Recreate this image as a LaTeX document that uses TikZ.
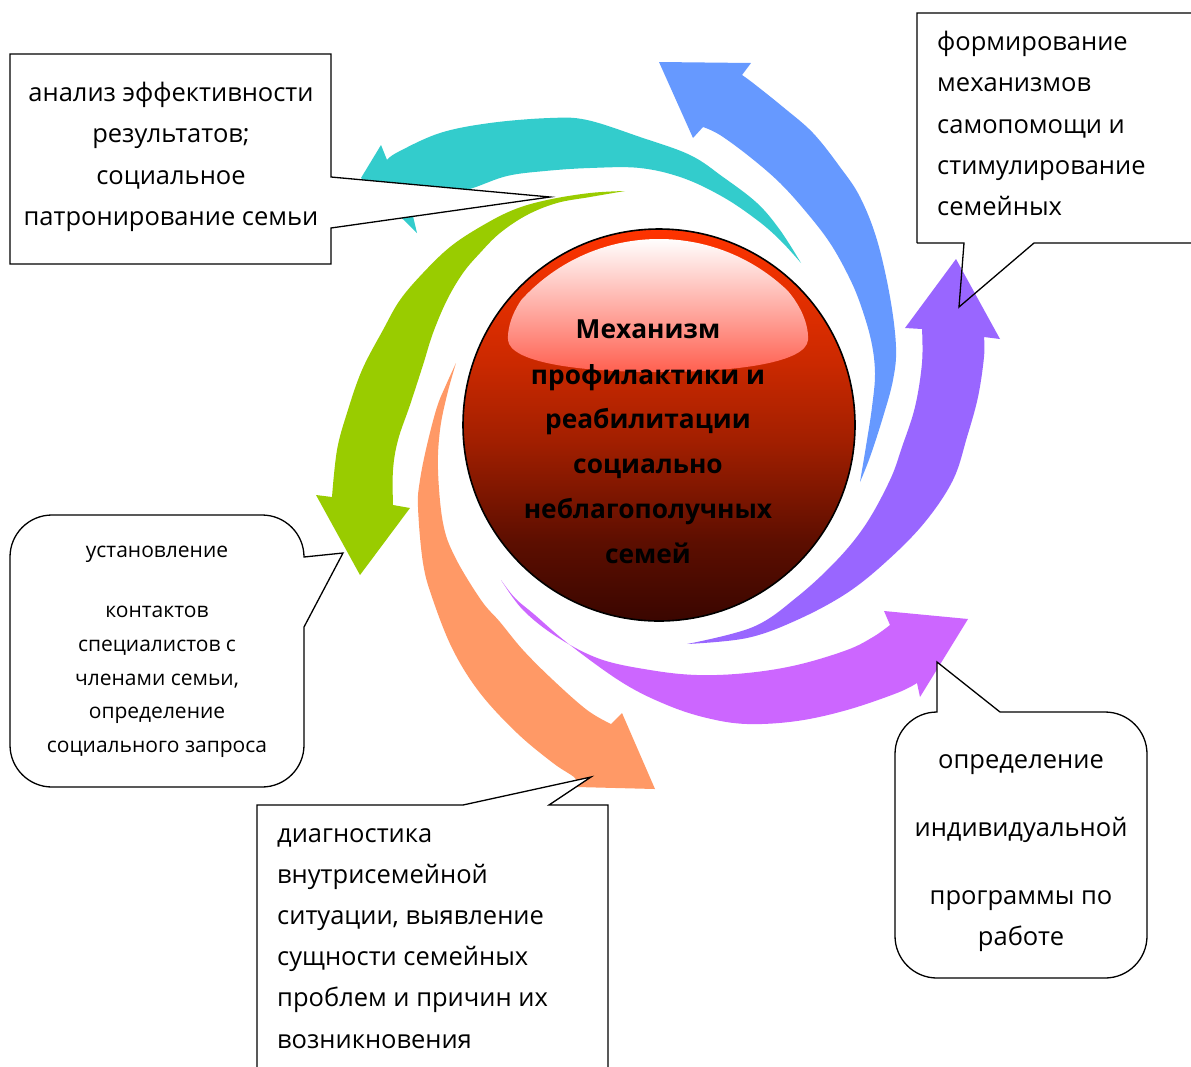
\documentclass[tikz,border=0pt]{standalone}
\usepackage{fontspec}
\setmainfont{Open Sans}
\definecolor{cteal}{HTML}{33CCCC}
\definecolor{cblue}{HTML}{6699FF}
\definecolor{cviolet}{HTML}{9966FF}
\definecolor{cmagenta}{HTML}{CC66FF}
\definecolor{corange}{HTML}{FF9966}
\definecolor{cgreen}{HTML}{99CC00}
\definecolor{ballA}{HTML}{3A0600}
\definecolor{ballB}{HTML}{5C0E00}
\definecolor{ballC}{HTML}{A21F00}
\definecolor{ballD}{HTML}{CB2900}
\definecolor{ballE}{HTML}{E83000}
\definecolor{ballF}{HTML}{FF3300}
\definecolor{glossbot}{HTML}{FF6050}
\pgfdeclareverticalshading{ballshade}{100bp}{color(0bp)=(ballA); color(25bp)=(ballA); color(35bp)=(ballB); color(48bp)=(ballC); color(58bp)=(ballD); color(68bp)=(ballE); color(75bp)=(ballF); color(100bp)=(ballF)}
\tikzset{
  callout/.style={draw=black, line width=1.3pt, fill=white, line join=miter},
  calloutopen/.style={draw=black, line width=1.3pt, line join=miter},
  txt/.style={font=\fontsize{25.5}{30}\selectfont, anchor=base, inner sep=0pt},
  txtl/.style={txt, anchor=base west},
  smalltxt/.style={font=\fontsize{21}{25}\selectfont, anchor=base, inner sep=0pt},
  ctrtxt/.style={font=\bfseries\fontsize{26.3}{30}\selectfont, anchor=base, inner sep=0pt},
  edge/.style={smooth, tension=0.6}
}
\begin{document}
\begin{tikzpicture}[x=1pt,y=-1pt]
\clip (0,0) rectangle (1191,1066);
\fill[white] (0,0) rectangle (1191,1066);

% ---- arrows ----
% teal
\fill[cteal] plot[edge] coordinates {(801,263) (780,230) (757,203) (723,177) (690,155) (640,137) (587,120) (550,118) (490,123) (440,133) (398,152) (387,160)}
  -- (381,145) -- (361,178) -- (417,233) --
  plot[edge] coordinates {(412,212) (440,198) (473,188) (507,176) (545,171) (590,168) (640,168) (683,178) (723,197) (757,220) (780,240) (801,263)} -- cycle;
% blue
\fill[cblue] plot[edge] coordinates {(860,482) (870,457) (883,417) (893,380) (896,347) (890,297) (877,240) (860,197) (840,167) (813,133) (783,107) (753,83) (742,75)}
  -- (751,63) -- (659,62) -- (693,138) --
  plot[edge] coordinates {(703,127) (720,135) (750,157) (780,183) (807,213) (830,243) (848,275) (860,303) (871,340) (875,373) (872,407) (867,440) (860,482)} -- cycle;
% violet
\fill[cviolet] plot[edge] coordinates {(687,644) (747,638) (797,620) (847,593) (888,560) (925,522) (953,480) (967,437) (978,397) (984,357) (984,337)}
  -- (1000,339) -- (956,259) -- (905,328) --
  plot[edge] coordinates {(922,329) (922,363) (915,407) (902,447) (890,480) (866,524) (837,560) (797,597) (753,627) (687,644)} -- cycle;
% magenta
\fill[cmagenta] plot[edge] coordinates {(501,580) (515,598) (535,615) (570,645) (623,683) (667,705) (707,718) (747,724) (797,721) (847,710) (897,693) (917,683)}
  -- (920,697) -- (968,619) -- (884,611) --
  plot[edge] coordinates {(890,625) (873,637) (847,650) (797,665) (747,673) (697,675) (650,670) (600,659) (557,637) (523,610) (501,580)} -- cycle;
% orange
\fill[corange] plot[edge] coordinates {(456,363) (446,385) (437,407) (427,445) (420,480) (418,507) (423,563) (433,600) (453,650) (480,693) (517,733) (553,763) (575,778) (577,787)}
  -- (655,789) -- (622,713) --
  plot[edge] coordinates {(611,724) (587,710) (553,680) (523,650) (500,622) (481,600) (455,557) (443,523) (438,470) (440,430) (447,395) (456,363)} -- cycle;
% green
\fill[cgreen] plot[edge] coordinates {(625,191) (590,193) (547,200) (513,210) (480,227) (450,247) (423,273) (400,300) (383,330) (362,370) (347,413) (337,450) (332,497)}
  -- (316,495) -- (360,575) -- (410,508) --
  plot[edge] coordinates {(393,505) (393,470) (398,440) (410,405) (423,365) (433,333) (447,300) (463,273) (480,253) (500,233) (527,215) (557,203) (590,197) (625,191)} -- cycle;

% ---- central ball ----
\coordinate (ballc) at (659,425);
\shade[shading=ballshade] (ballc) circle[radius=196];
\begin{scope}
  \clip (ballc) circle[radius=186];
  \shade[top color=white, bottom color=glossbot]
    (508,340) .. controls (506,300) and (560,238) .. (658,238)
    .. controls (756,238) and (810,300) .. (808,340)
    .. controls (806,362) and (740,372) .. (658,372)
    .. controls (576,372) and (510,362) .. (508,340) -- cycle;
\end{scope}
\draw[line width=1.6pt] (ballc) circle[radius=196];

% ---- callouts ----
\draw[callout] (10,54) -- (331,54) -- (331,177) -- (550,197) -- (331,228) -- (331,264) -- (10,264) -- cycle;
\draw[calloutopen] (917,243) -- (917,13) -- (1200,13) (1200,243) -- (1034,243) -- (959,307) -- (964,243) -- (917,243);
\draw[callout] (52,515) -- (262,515) .. controls (285.2,515) and (304,533.8) .. (304,557) -- (343,553) -- (304,627) -- (304,745)
  .. controls (304,768.2) and (285.2,787) .. (262,787) -- (52,787) .. controls (28.8,787) and (10,768.2) .. (10,745)
  -- (10,557) .. controls (10,533.8) and (28.8,515) .. (52,515) -- cycle;
\draw[callout] (257,1080) -- (257,805) -- (463,805) -- (591,777) -- (549,805) -- (608,805) -- (608,1080);
\draw[callout] (937,712) -- (937,662) -- (1000,712) -- (1105,712) .. controls (1128.2,712) and (1147,730.8) .. (1147,754)
  -- (1147,936) .. controls (1147,959.2) and (1128.2,978) .. (1105,978) -- (937,978)
  .. controls (913.8,978) and (895,959.2) .. (895,936) -- (895,754) .. controls (895,730.8) and (913.8,712) .. (937,712) -- cycle;

% ---- texts ----
\node[ctrtxt] (c1) at (648,338) {Механизм};
\node[ctrtxt] (c2) at (648,384) {профилактики и};
\node[ctrtxt] (c3) at (648,428) {реабилитации};
\node[ctrtxt] (c4) at (648,473) {социально};
\node[ctrtxt] (c5) at (648,518) {неблагополучных};
\node[ctrtxt] (c6) at (648,563) {семей};

\node[txt] (a1) at (171,101) {анализ эффективности};
\node[txt] (a2) at (171,142) {результатов;};
\node[txt] (a3) at (171,184) {социальное};
\node[txt] (a4) at (171,225) {патронирование семьи};

\node[txtl] (b1) at (937,50) {формирование};
\node[txtl] (b2) at (937,91) {механизмов};
\node[txtl] (b3) at (937,133) {самопомощи и};
\node[txtl] (b4) at (937,174) {стимулирование};
\node[txtl] (b5) at (937,215) {семейных};

\node[smalltxt] (l1) at (157,557) {установление};
\node[smalltxt] (l2) at (157,617) {контактов};
\node[smalltxt] (l3) at (157,651) {специалистов с};
\node[smalltxt] (l4) at (157,685) {членами семьи,};
\node[smalltxt] (l5) at (157,718) {определение};
\node[smalltxt] (l6) at (157,752) {социального запроса};

\node[txtl] (d1) at (277,842) {диагностика};
\node[txtl] (d2) at (277,883) {внутрисемейной};
\node[txtl] (d3) at (277,924) {ситуации, выявление};
\node[txtl] (d4) at (277,965) {сущности семейных};
\node[txtl] (d5) at (277,1006) {проблем и причин их};
\node[txtl] (d6) at (277,1048) {возникновения};

\node[txt] (e1) at (1021,768) {определение};
\node[txt] (e2) at (1021,836) {индивидуальной};
\node[txt] (e3) at (1021,904) {программы по};
\node[txt] (e4) at (1021,945) {работе};
\end{tikzpicture}
\end{document}
